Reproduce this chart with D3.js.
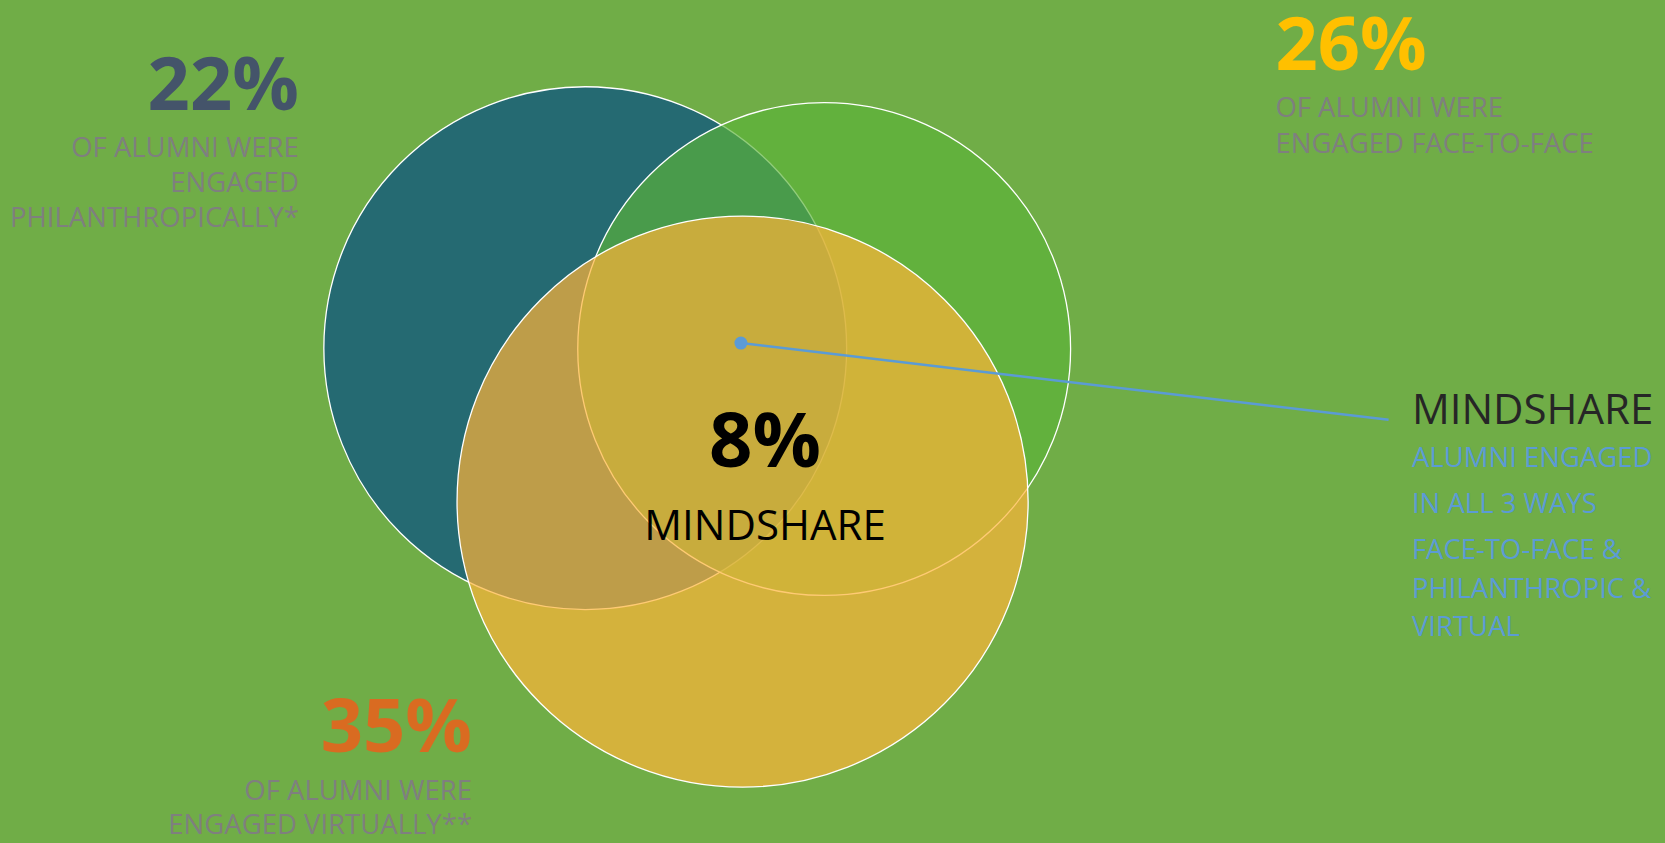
<!DOCTYPE html>
<html>
<head>
<meta charset="utf-8">
<script src="https://cdn.jsdelivr.net/npm/d3@7"></script>
<style>
  html, body { margin: 0; padding: 0; background: #70AD47; }
  svg { display: block; }
  text { font-family: "Open Sans", "Noto Sans", sans-serif; }
</style>
</head>
<body>
<svg id="chart"></svg>
<script>
// data
const sets = ["Philanthropic", "Face-to-face", "Virtual"];
const shares = [22, 26, 35];
const mindshare = 8;
const setColors = ["#256A72", "#5BB339", "#FFB437"];
const numberColors = ["#44546A", "#FFC000", "#D96B21"];
const setLines = [
    ["OF ALUMNI WERE", "ENGAGED", "PHILANTHROPICALLY*"],
    ["OF ALUMNI WERE", "ENGAGED FACE-TO-FACE"],
    ["OF ALUMNI WERE", "ENGAGED VIRTUALLY**"]
];
const calloutTitle = "MINDSHARE";
const calloutLines = ["ALUMNI ENGAGED", "IN ALL 3 WAYS", "FACE-TO-FACE &", "PHILANTHROPIC &", "VIRTUAL"];

// layout (positions in a 0..100 space, mapped by scales)
const circleLayout = [
    { cx: 35.15, cy: 41.3, r: 15.7, opacity: 1 },
    { cx: 49.5, cy: 41.4, r: 14.8, opacity: 0.67 },
    { cx: 44.6, cy: 59.5, r: 17.15, opacity: 0.7 }
];
const labelLayout = [
    { x: 17.95, y: 13.05, anchor: "end", gap: 35, firstGap: 47 },
    { x: 76.6, y: 8.3, anchor: "start", gap: 36, firstGap: 47 },
    { x: 28.35, y: 89.2, anchor: "end", gap: 34, firstGap: 48 }
];

const width = 1665, height = 843;
const x = d3.scaleLinear().domain([0, 100]).range([0, width]);
const y = d3.scaleLinear().domain([0, 100]).range([0, height]);

const svg = d3.select("#chart").attr("width", width).attr("height", height);

svg.append("rect")
    .attr("width", width)
    .attr("height", height)
    .attr("fill", "#70AD47");

const circles = sets.map((s, i) => Object.assign({ name: s, color: setColors[i] }, circleLayout[i]));

svg.append("g").selectAll("circle")
    .data(circles)
    .enter().append("circle")
    .attr("cx", d => x(d.cx))
    .attr("cy", d => y(d.cy))
    .attr("r", d => x(d.r))
    .attr("fill", d => d.color)
    .attr("fill-opacity", d => d.opacity)
    .attr("stroke", "#ffffff")
    .attr("stroke-width", 1.3);

// set labels
const labels = svg.append("g").selectAll("g")
    .data(sets.map((s, i) => ({ share: shares[i], color: numberColors[i], lines: setLines[i], pos: labelLayout[i] })))
    .enter().append("g")
    .attr("transform", d => `translate(${x(d.pos.x)},${y(d.pos.y)})`);

labels.append("text")
    .attr("text-anchor", d => d.pos.anchor)
    .attr("font-size", 74)
    .attr("font-weight", 700)
    .attr("fill", d => d.color)
    .text(d => d.share + "%");

labels.each(function(d) {
    d3.select(this).selectAll("text.line")
        .data(d.lines)
        .enter().append("text")
        .attr("class", "line")
        .attr("text-anchor", d.pos.anchor)
        .attr("y", (t, j) => d.pos.firstGap + j * d.pos.gap)
        .attr("font-size", 27.5)
        .attr("fill", "#7F7F7F")
        .text(t => t);
});

// center value
const cx0 = x(45.95);
svg.append("text")
    .attr("x", cx0)
    .attr("y", y(55.4))
    .attr("text-anchor", "middle")
    .attr("font-size", 76)
    .attr("font-weight", 700)
    .attr("fill", "#000")
    .text(mindshare + "%");

svg.append("text")
    .attr("x", cx0)
    .attr("y", y(64.05))
    .attr("text-anchor", "middle")
    .attr("font-size", 42)
    .attr("fill", "#000")
    .text(calloutTitle);

// callout
const dot = [x(44.5), y(40.7)];
const end = [x(83.4), y(49.8)];
svg.append("line")
    .attr("x1", dot[0]).attr("y1", dot[1])
    .attr("x2", end[0]).attr("y2", end[1])
    .attr("stroke", "#5B9BD5")
    .attr("stroke-width", 2.5);
svg.append("circle")
    .attr("cx", dot[0]).attr("cy", dot[1])
    .attr("r", 6.5)
    .attr("fill", "#5B9BD5");

const tx = x(84.8);
svg.append("text")
    .attr("x", tx)
    .attr("y", 424)
    .attr("font-size", 42)
    .attr("fill", "#262626")
    .text(calloutTitle);

const lineY = [467, 513, 559, 598, 636];
svg.append("g").selectAll("text")
    .data(calloutLines)
    .enter().append("text")
    .attr("x", tx)
    .attr("y", (d, i) => lineY[i])
    .attr("font-size", 27.5)
    .attr("fill", "#5B9BD5")
    .text(d => d);
</script>
</body>
</html>
